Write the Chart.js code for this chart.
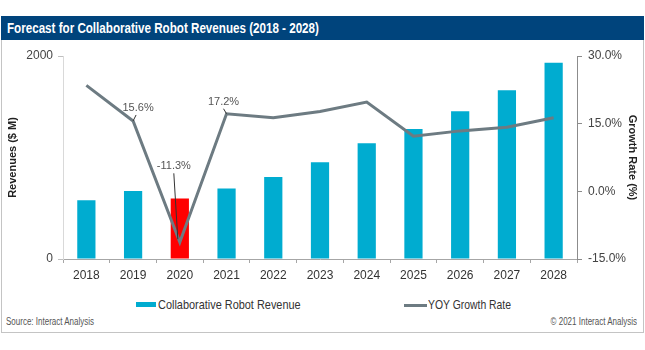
<!DOCTYPE html>
<html>
<head>
<meta charset="utf-8">
<script src="https://cdn.jsdelivr.net/npm/chart.js@4.4.1/dist/chart.umd.min.js"></script>
<style>
  body { margin: 0; width: 645px; height: 350px; overflow: hidden; background: #fff; font-family: "Liberation Sans", Arial, sans-serif; }
  .narrow { display: inline-block; white-space: nowrap; transform: scaleX(0.82); transform-origin: left center; }
  #frame { position: absolute; left: 1px; top: 16px; width: 643px; height: 317px; border: 1px solid #c4c4c4; box-sizing: border-box; }
  #title { position: absolute; left: 1px; top: 16px; width: 643px; height: 24px; background: #00447c; color: #fff; font-weight: bold; font-size: 14px; line-height: 24px; padding-left: 6px; box-sizing: border-box; }
  #wrap { position: absolute; left: 0; top: 40px; width: 645px; height: 250px; }
  .leg { position: absolute; top: 297px; font-size: 13px; color: #333; line-height: 16px; }
  .sw { position: absolute; }
  .foot { position: absolute; top: 316px; font-size: 10px; color: #555; line-height: 12px; }
</style>
</head>
<body>
<div id="frame"></div>
<div id="title"><span class="narrow" style="transform:scaleX(0.83)">Forecast for Collaborative Robot Revenues (2018 - 2028)</span></div>
<div id="wrap"><canvas id="c"></canvas></div>
<div class="sw" style="left:136px;top:302px;width:20px;height:5px;background:#00acd0"></div>
<div class="leg" style="left:158px"><span class="narrow" style="transform:scaleX(0.84)">Collaborative Robot Revenue</span></div>
<div class="sw" style="left:404px;top:304px;width:23px;height:3px;background:#6d7b82"></div>
<div class="leg" style="left:428px"><span class="narrow" style="transform:scaleX(0.8)">YOY Growth Rate</span></div>
<div class="foot" style="left:6px"><span class="narrow" style="transform:scaleX(0.8)">Source: Interact Analysis</span></div>
<div class="foot" style="right:8px"><span class="narrow" style="transform:scaleX(0.8);transform-origin:right center">© 2021 Interact Analysis</span></div>
<script>
const years = ['2018', '2019', '2020', '2021', '2022', '2023', '2024', '2025', '2026', '2027', '2028'];
const revenue = [580, 670, 595, 695, 808, 952, 1140, 1280, 1455, 1662, 1934];
const growth = [23.5, 15.6, -11.3, 17.2, 16.3, 17.7, 19.8, 12.2, 13.4, 14.2, 16.3];
const growthLabels = [null, '15.6%', '-11.3%', '17.2%', null, null, null, null, null, null, null];
const revenueTicks = [0, 2000];
const growthTicks = [-15, 0, 15, 30];

const BAR = '#00acd0';
const HIGHLIGHT = '#ff0000';
const LINE = '#6d7b82';

// label placement relative to its point: text centre and leader line ends
const labelPos = {
  1: { dx: 5, dy: -13, l1: [0, 0], l2: [3, -6] },
  2: { dx: -6, dy: -76, l1: [-2, -3], l2: [-6, -69] },
  3: { dx: -3, dy: -12, l1: [0, 0], l2: [-3, -5] },
};

const growthLabelPlugin = {
  id: 'growthLabels',
  afterDatasetsDraw(chart) {
    const ctx = chart.ctx;
    const meta = chart.getDatasetMeta(1);
    ctx.save();
    ctx.font = '11px "Liberation Sans", Arial, sans-serif';
    ctx.fillStyle = '#555';
    ctx.textAlign = 'center';
    ctx.textBaseline = 'middle';
    growthLabels.forEach((txt, i) => {
      if (!txt) return;
      const p = meta.data[i];
      const o = labelPos[i];
      ctx.strokeStyle = '#333';
      ctx.lineWidth = 1;
      ctx.beginPath();
      ctx.moveTo(p.x + o.l1[0], p.y + o.l1[1]);
      ctx.lineTo(p.x + o.l2[0], p.y + o.l2[1]);
      ctx.stroke();
      ctx.fillText(txt, p.x + o.dx, p.y + o.dy);
    });
    ctx.restore();
  },
};

const tickFont = { family: '"Liberation Sans", Arial, sans-serif', size: 12 };
const titleFont = { family: '"Liberation Sans", Arial, sans-serif', size: 11, weight: 'bold' };

new Chart(document.getElementById('c'), {
  data: {
    labels: years,
    datasets: [
      {
        type: 'bar',
        label: 'Collaborative Robot Revenue',
        data: revenue,
        yAxisID: 'y',
        backgroundColor: revenue.map((v, i) => (years[i] === '2020' ? HIGHLIGHT : BAR)),
        barPercentage: 0.39,
        categoryPercentage: 1,
        order: 2,
      },
      {
        type: 'line',
        label: 'YOY Growth Rate',
        data: growth,
        yAxisID: 'y1',
        borderColor: LINE,
        borderWidth: 3,
        pointRadius: 0,
        tension: 0,
        order: 1,
      },
    ],
  },
  options: {
    responsive: true,
    maintainAspectRatio: false,
    animation: false,
    layout: { padding: { top: 16, left: 0, right: 0, bottom: 0 } },
    plugins: { legend: { display: false }, tooltip: { enabled: false } },
    scales: {
      x: {
        grid: { drawOnChartArea: false, tickLength: 4, color: '#a6a6a6' },
        border: { color: '#a6a6a6' },
        ticks: { font: tickFont, color: '#333', padding: 5, maxRotation: 0 },
        afterFit: s => { s.height = 31; },
      },
      y: {
        position: 'left',
        min: 0,
        max: 2000,
        afterBuildTicks: s => { s.ticks = revenueTicks.map(v => ({ value: v })); },
        grid: { drawOnChartArea: false, tickLength: 5, color: '#bfbfbf' },
        border: { color: '#d9d9d9' },
        ticks: { font: tickFont, color: '#444', padding: 5, callback: v => String(v) },
        title: { display: true, text: 'Revenues ($ M)', font: titleFont, color: '#222', padding: { top: 6, bottom: 0 } },
        afterFit: s => { s.width = 63; },
      },
      y1: {
        position: 'right',
        min: -15,
        max: 30,
        afterBuildTicks: s => { s.ticks = growthTicks.map(v => ({ value: v })); },
        grid: { drawOnChartArea: false, tickLength: 5, color: '#8c8c8c' },
        border: { color: '#8c8c8c' },
        ticks: { font: tickFont, color: '#444', padding: 6, callback: v => v.toFixed(1) + '%' },
        title: { display: true, text: 'Growth Rate (%)', font: titleFont, color: '#222', padding: { top: 6, bottom: 0 } },
        afterFit: s => { s.width = 68; },
      },
    },
  },
  plugins: [growthLabelPlugin],
});
</script>
</body>
</html>
